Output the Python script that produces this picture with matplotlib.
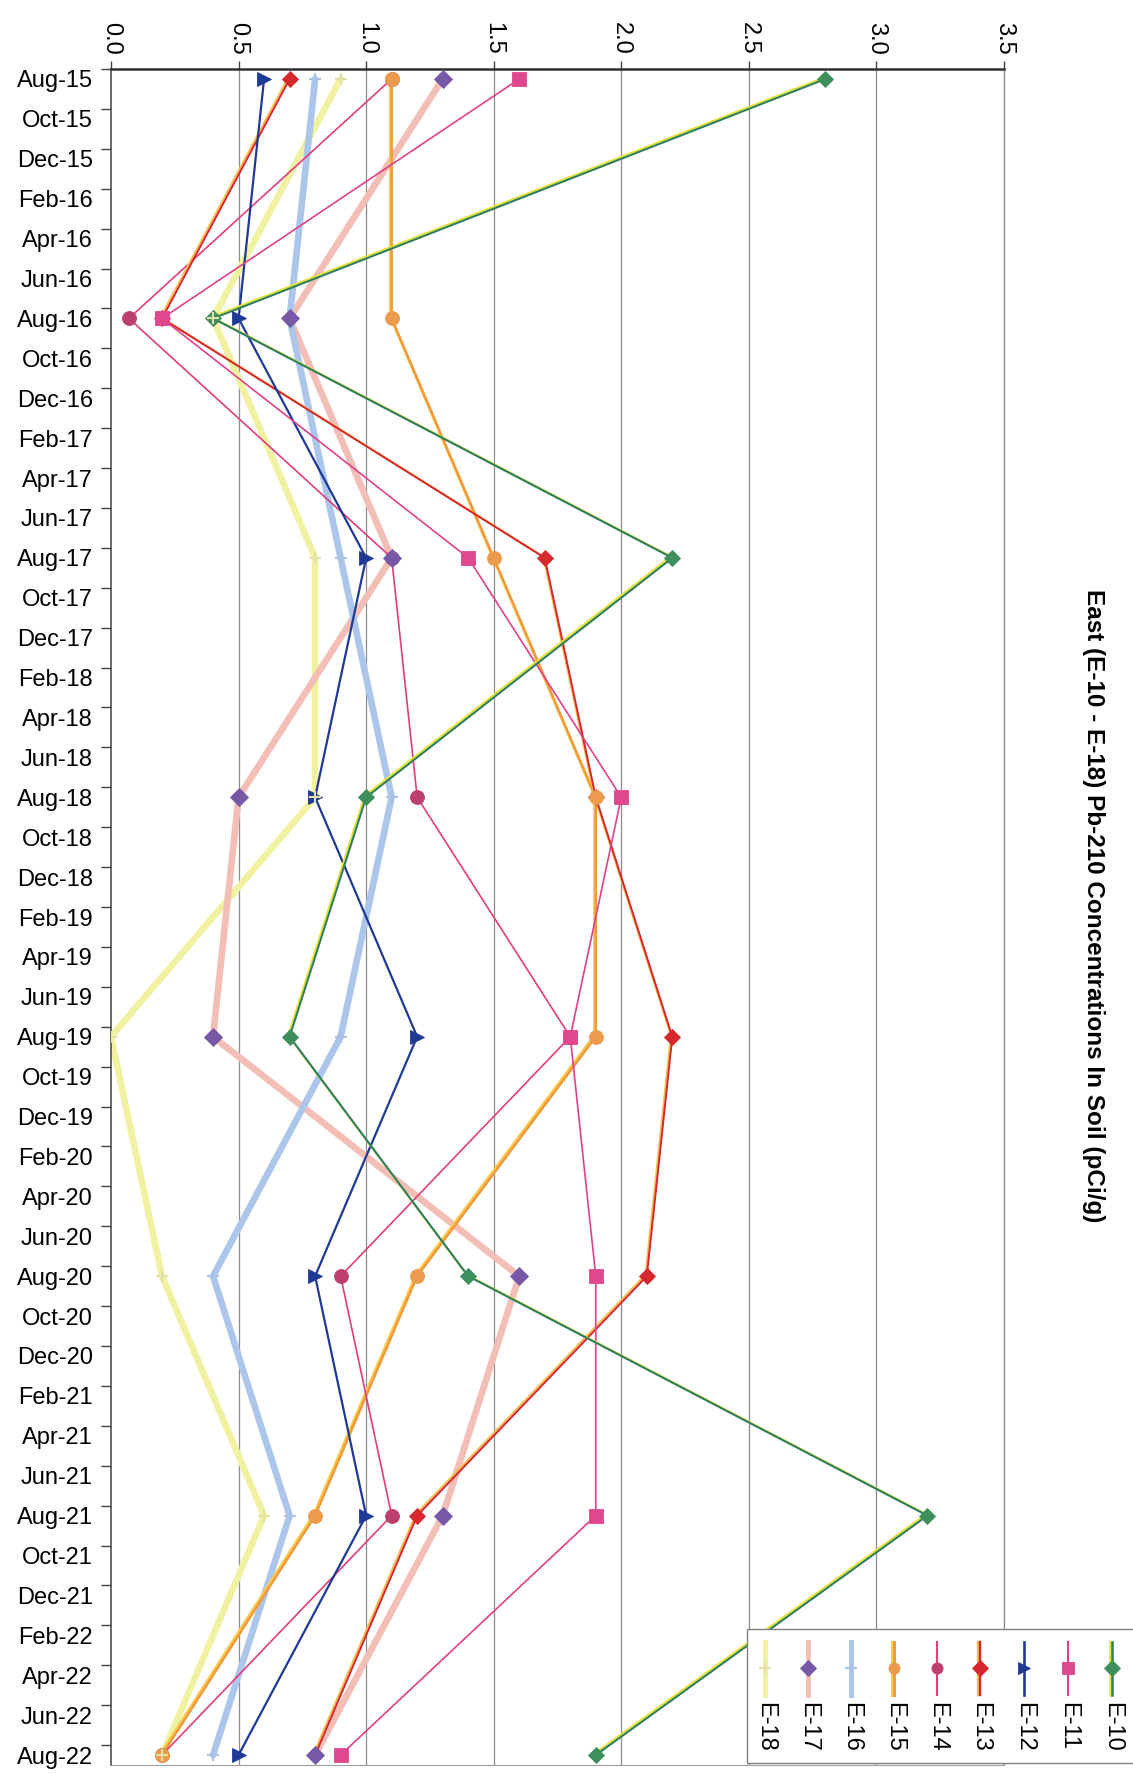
import matplotlib
matplotlib.use('Agg')
import matplotlib.pyplot as plt
from matplotlib.lines import Line2D
from matplotlib.patches import Rectangle
from matplotlib.transforms import offset_copy
import pandas as pd

plt.rcParams['font.family'] = ['Liberation Sans', 'DejaVu Sans']

# sampling dates (every August) and values in pCi/g
sample_dates = ['2015-08', '2016-08', '2017-08', '2018-08',
                '2019-08', '2020-08', '2021-08', '2022-08']
e10 = [2.8, 0.4, 2.2, 1.0, 0.7, 1.4, 3.2, 1.9]
e11 = [1.6, 0.2, 1.4, 2.0, 1.8, 1.9, 1.9, 0.9]
e12 = [0.6, 0.5, 1.0, 0.8, 1.2, 0.8, 1.0, 0.5]
e13 = [0.7, 0.2, 1.7, 1.9, 2.2, 2.1, 1.2, 0.8]
e14 = [1.1, 0.07, 1.1, 1.2, 1.8, 0.9, 1.1, 0.2]
e15 = [1.1, 1.1, 1.5, 1.9, 1.9, 1.2, 0.8, 0.2]
e16 = [0.8, 0.7, 0.9, 1.1, 0.9, 0.4, 0.7, 0.4]
e17 = [1.3, 0.7, 1.1, 0.5, 0.4, 1.6, 1.3, 0.8]
e18 = [0.9, 0.4, 0.8, 0.8, 0.0, 0.2, 0.6, 0.2]

value_ticks = [0.0, 0.5, 1.0, 1.5, 2.0, 2.5, 3.0, 3.5]
title = 'East (E-10 - E-18) Pb-210 Concentrations In Soil (pCi/g)'

W, H = 1133, 1773
def fx(x): return x / W
def fy(y): return 1 - y / H

start = pd.Timestamp('2015-08-01')
def month_idx(d):
    d = pd.Timestamp(d)
    return (d.year - start.year) * 12 + d.month - start.month

ys = [month_idx(d) for d in sample_dates]
label_dates = pd.date_range('2015-08-01', '2022-08-01', freq='2MS')
label_pos = [month_idx(d) for d in label_dates]
label_txt = [d.strftime('%b-%y') for d in label_dates]

# name, values, line colour, line width, marker, marker colour, marker size, underlay colour, marker z
series = [
    ('E-18', e18, '#f1f1a2', 4.8, '+', '#e2e2a8', 8, None, 28),
    ('E-17', e17, '#f3beb6', 4.8, 'D', '#7658a6', 9, None, 27),
    ('E-16', e16, '#abc6ea', 4.8, '+', '#a9c2e4', 8, None, 26),
    ('E-15', e15, '#f29a3a', 1.8, 'o', '#ec9a4c', 10, '#f6cc50', 25),
    ('E-14', e14, '#e23e7e', 1.2, 'o', '#bd3f6e', 10, None, 23),
    ('E-13', e13, '#d9262c', 1.4, 'D', '#d6282e', 8, '#f2c050', 21),
    ('E-12', e12, '#1f3a94', 1.6, '>', '#1f3a94', 10, None, 22),
    ('E-11', e11, '#e0428a', 1.2, 's', '#e0478c', 10, None, 24),
    ('E-10', e10, '#2f7f5e', 1.5, 'D', '#3d8f5c', 8, '#e8e238', 20),
]

fig = plt.figure(figsize=(W / 100, H / 100), dpi=100)
ax = fig.add_axes([fx(111), fy(1765), (1004 - 111) / W, (1765 - 69) / H])
shifted = offset_copy(ax.transData, fig=fig, x=-1.0, y=1.0, units='points')

for i, (name, vals, col, lw, mk, mcol, ms, under, mz) in enumerate(series):
    z = 2 + i
    if under:
        ax.plot(vals, ys, color=under, lw=lw, zorder=z, transform=shifted)
    ax.plot(vals, ys, color=col, lw=lw, zorder=z + 0.1, solid_capstyle='round')
    mew = 1.5 if mk == '+' else 0.6
    ax.plot(vals, ys, ls='none', marker=mk, color=mcol, ms=ms, mec=mcol, mew=mew, zorder=mz)

ax.set_xlim(0, 3.5)
ax.set_ylim(84.5, -0.5)

ax.xaxis.set_ticks_position('top')
ax.set_xticks(value_ticks)
ax.set_xticklabels(['%.1f' % v for v in value_ticks], rotation=-90, fontsize=17)
ax.tick_params(axis='x', direction='out', length=6, width=1, color='#404040', pad=4)

ax.set_yticks(label_pos)
ax.set_yticklabels(label_txt, fontsize=17)
ax.tick_params(axis='y', which='major', length=0, pad=13)
ax.set_yticks([p - 0.5 for p in label_pos], minor=True)
ax.tick_params(axis='y', which='minor', direction='out', length=7, width=1, color='#404040')

for v in value_ticks[1:]:
    ax.axvline(v, color='#8c8c8c', lw=0.9, zorder=1)

ax.spines['top'].set_color('#303030')
ax.spines['top'].set_linewidth(1.8)
ax.spines['left'].set_color('#505050')
ax.spines['left'].set_linewidth(1.2)
ax.spines['bottom'].set_color('#a0a0a0')
ax.spines['right'].set_color('#8c8c8c')
ax.spines['right'].set_linewidth(0.9)

fig.text(fx(1093), fy(906), title, rotation=-90, ha='center', va='center',
         fontsize=17.5, fontweight='bold')

# legend box, drawn rotated like the rest of the page
fig.patches.append(Rectangle((fx(747), fy(1763)), (1140 - 747) / W, (1763 - 1629) / H,
                             transform=fig.transFigure, facecolor='white',
                             edgecolor='#808080', lw=1.0, zorder=30))
leg_x = [765, 808, 851, 894, 937, 980, 1024, 1068, 1112]
for (name, vals, col, lw, mk, mcol, ms, under, mz), lx in zip(series, leg_x):
    llw = 3.5 if lw > 4 else lw + 0.3
    if under:
        fig.add_artist(Line2D([fx(lx) - 0.0015, fx(lx) - 0.0015], [fy(1642), fy(1695)],
                              transform=fig.transFigure, color=under, lw=llw, zorder=31))
    fig.add_artist(Line2D([fx(lx), fx(lx)], [fy(1642), fy(1695)], transform=fig.transFigure,
                          color=col, lw=llw, zorder=31.5))
    mew = 1.5 if mk == '+' else 0.6
    fig.add_artist(Line2D([fx(lx)], [fy(1668)], transform=fig.transFigure, ls='none',
                          marker=mk, color=mcol, mec=mcol, ms=min(ms, 8), mew=mew, zorder=32))
    fig.text(fx(lx), fy(1702), name, rotation=-90, ha='center', va='top', fontsize=17, zorder=33)

fig.savefig('out.png', dpi=100)
